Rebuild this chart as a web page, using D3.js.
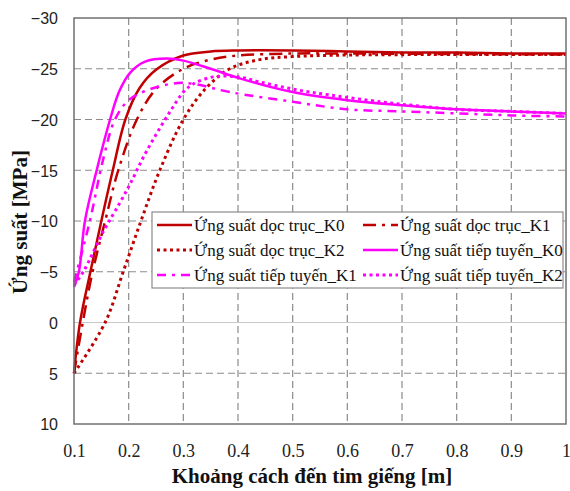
<!DOCTYPE html>
<html>
<head>
<meta charset="utf-8">
<script src="https://cdn.jsdelivr.net/npm/d3@7/dist/d3.min.js"></script>
<style>
  html, body { margin: 0; padding: 0; background: #fff; }
  svg { display: block; }
</style>
</head>
<body>
<svg id="chart" width="570" height="491"></svg>
<script>
(function () {
    'use strict';

    // x = distance from well centre [m], y = stress [MPa]
    var docTrucK0 = [[0.1, 5], [0.111, 0], [0.13, -5], [0.15, -10], [0.171, -15],
        [0.194, -20], [0.22, -23.1], [0.25, -24.9], [0.3, -26.3], [0.35, -26.7],
        [0.4, -26.8], [0.5, -26.8], [0.6, -26.7], [0.7, -26.6], [0.8, -26.6],
        [0.9, -26.5], [1.0, -26.5]];

    var docTrucK1 = [[0.1, 5], [0.116, 0], [0.134, -5], [0.157, -10], [0.181, -15],
        [0.215, -20], [0.25, -23], [0.3, -25], [0.35, -25.9], [0.4, -26.3],
        [0.5, -26.5], [0.6, -26.5], [0.8, -26.45], [1.0, -26.4]];

    var docTrucK2 = [[0.1, 5], [0.157, 0], [0.19, -5], [0.2225, -10], [0.257, -15],
        [0.3, -20], [0.34, -23], [0.385, -25], [0.44, -25.9], [0.5, -26.2],
        [0.6, -26.35], [0.8, -26.4], [1.0, -26.4]];

    var tiepTuyenK0 = [[0.1, -3.5], [0.109, -5], [0.12, -10], [0.1415, -15],
        [0.166, -20], [0.183, -22.8], [0.2025, -24.6], [0.23, -25.7], [0.27, -26.0],
        [0.3, -25.8], [0.35, -25], [0.4, -24.1], [0.5, -22.7], [0.6, -21.9],
        [0.7, -21.4], [0.8, -21.0], [0.9, -20.8], [1.0, -20.6]];

    var tiepTuyenK1 = [[0.1, -4], [0.129, -10], [0.153, -16], [0.175, -20],
        [0.2, -21.9], [0.24, -23], [0.29, -23.6], [0.32, -23.5], [0.385, -22.7],
        [0.5, -21.75], [0.6, -21.0], [0.7, -20.8], [0.8, -20.6], [0.9, -20.4],
        [1.0, -20.3]];

    var tiepTuyenK2 = [[0.1, -3.7], [0.117, -5], [0.154, -9], [0.184, -11.8],
        [0.205, -13.9], [0.227, -16.3], [0.251, -18.6], [0.276, -20.8],
        [0.3, -22.7], [0.318, -23.5], [0.355, -24.2], [0.4, -24.2], [0.44, -23.7],
        [0.5, -23.0], [0.57, -22.4], [0.66, -21.75], [0.7, -21.5], [0.8, -21.0],
        [0.9, -20.8], [1.0, -20.6]];

    var xTicks = [0.1, 0.2, 0.3, 0.4, 0.5, 0.6, 0.7, 0.8, 0.9, 1];
    var yTicks = [-30, -25, -20, -15, -10, -5, 0, 5, 10];

    var seriesNames = ['Ứng suất dọc trục_K0', 'Ứng suất dọc trục_K1',
        'Ứng suất dọc trục_K2', 'Ứng suất tiếp tuyến_K0',
        'Ứng suất tiếp tuyến_K1', 'Ứng suất tiếp tuyến_K2'];

    var red = '#c00000',
        pink = '#ff00ff';

    var series = [
        { name: seriesNames[0], data: docTrucK0, color: red, dash: null, w: 2.5 },
        { name: seriesNames[1], data: docTrucK1, color: red, dash: '13,6,3,6', w: 2.5 },
        { name: seriesNames[2], data: docTrucK2, color: red, dash: '3,3.5', w: 3 },
        { name: seriesNames[3], data: tiepTuyenK0, color: pink, dash: null, w: 2.5 },
        { name: seriesNames[4], data: tiepTuyenK1, color: pink, dash: '9,6,3,6', w: 2.5 },
        { name: seriesNames[5], data: tiepTuyenK2, color: pink, dash: '3,3.5', w: 3 }
    ];

    var plot = { left: 74, top: 18, right: 566, bottom: 424 };

    var svg = d3.select('#chart');

    var x = d3.scaleLinear().domain([0.1, 1]).range([plot.left, plot.right]);
    var y = d3.scaleLinear().domain([-30, 10]).range([plot.top, plot.bottom]);

    // grid
    var grid = svg.append('g').attr('class', 'grid');

    grid.selectAll('line.vx')
        .data(xTicks.slice(1, -1))
        .enter().append('line')
        .attr('x1', function (d) { return x(d); })
        .attr('x2', function (d) { return x(d); })
        .attr('y1', plot.top)
        .attr('y2', plot.bottom)
        .style('stroke', '#8c8c8c')
        .style('stroke-width', 1.2)
        .style('stroke-dasharray', '7,4');

    grid.selectAll('line.hy')
        .data(yTicks.slice(1, -1))
        .enter().append('line')
        .attr('x1', plot.left)
        .attr('x2', plot.right)
        .attr('y1', function (d) { return y(d); })
        .attr('y2', function (d) { return y(d); })
        .style('stroke', function (d) { return d === 0 ? '#c8c8c8' : '#8c8c8c'; })
        .style('stroke-width', 1.2)
        .style('stroke-dasharray', function (d) { return d === 0 ? null : '7,4'; });

    // curves
    var line = d3.line()
        .x(function (d) { return x(d[0]); })
        .y(function (d) { return y(d[1]); })
        .curve(d3.curveCatmullRom.alpha(0.5));

    var curves = svg.append('g').attr('class', 'curves');

    series.forEach(function (s) {
        curves.append('path')
            .attr('d', line(s.data))
            .style('fill', 'none')
            .style('stroke', s.color)
            .style('stroke-width', s.w)
            .style('stroke-dasharray', s.dash);
    });

    // plot border
    svg.append('rect')
        .attr('x', plot.left)
        .attr('y', plot.top)
        .attr('width', plot.right - plot.left)
        .attr('height', plot.bottom - plot.top)
        .style('fill', 'none')
        .style('stroke', '#707070')
        .style('stroke-width', 1.5);

    // axes (labels only, no tick marks)
    var yAxis = d3.axisLeft(y).tickValues(yTicks).tickSize(0).tickPadding(16)
        .tickFormat(d3.format('d'));
    svg.append('g')
        .attr('transform', 'translate(' + plot.left + ',0)')
        .call(yAxis)
        .call(function (g) { g.select('.domain').remove(); })
        .selectAll('text')
        .attr('dy', '0.36em')
        .style('font-family', '"Liberation Sans", Arial, sans-serif')
        .style('font-size', '16px')
        .style('fill', '#222');

    var xAxis = d3.axisBottom(x).tickValues(xTicks).tickSize(0).tickPadding(20)
        .tickFormat(function (d) { return d === 1 ? '1' : d3.format('.1f')(d); });
    svg.append('g')
        .attr('transform', 'translate(0,' + plot.bottom + ')')
        .call(xAxis)
        .call(function (g) { g.select('.domain').remove(); })
        .selectAll('text')
        .style('font-family', '"Liberation Serif", "Times New Roman", serif')
        .style('font-size', '18px')
        .style('fill', '#222');

    // axis titles
    svg.append('text')
        .attr('x', 312)
        .attr('y', 483)
        .attr('text-anchor', 'middle')
        .style('font-family', '"Liberation Serif", "Times New Roman", serif')
        .style('font-weight', 'bold')
        .style('font-size', '21px')
        .style('fill', '#111')
        .text('Khoảng cách đến tim giếng [m]');

    svg.append('text')
        .attr('transform', 'translate(27,222) rotate(-90)')
        .attr('text-anchor', 'middle')
        .style('font-family', '"Liberation Serif", "Times New Roman", serif')
        .style('font-weight', 'bold')
        .style('font-size', '21px')
        .style('fill', '#111')
        .text('Ứng suất [MPa]');

    // legend
    var legend = svg.append('g').attr('class', 'legend');

    legend.append('rect')
        .attr('x', 152)
        .attr('y', 212)
        .attr('width', 411)
        .attr('height', 76)
        .style('fill', '#fff')
        .style('stroke', '#8c8c8c')
        .style('stroke-width', 1.2);

    series.forEach(function (s, i) {
        var col = i % 2,
            row = Math.floor(i / 2),
            lx = 157 + col * 206,
            ly = 225 + row * 25;

        legend.append('line')
            .attr('x1', lx)
            .attr('x2', lx + 35)
            .attr('y1', ly)
            .attr('y2', ly)
            .style('stroke', s.color)
            .style('stroke-width', s.w)
            .style('stroke-dasharray', s.dash);

        legend.append('text')
            .attr('x', lx + 37)
            .attr('y', ly + 6)
            .style('font-family', '"Liberation Serif", "Times New Roman", serif')
            .style('font-size', '17px')
            .style('fill', '#111')
            .text(s.name);
    });
})();
</script>
</body>
</html>
